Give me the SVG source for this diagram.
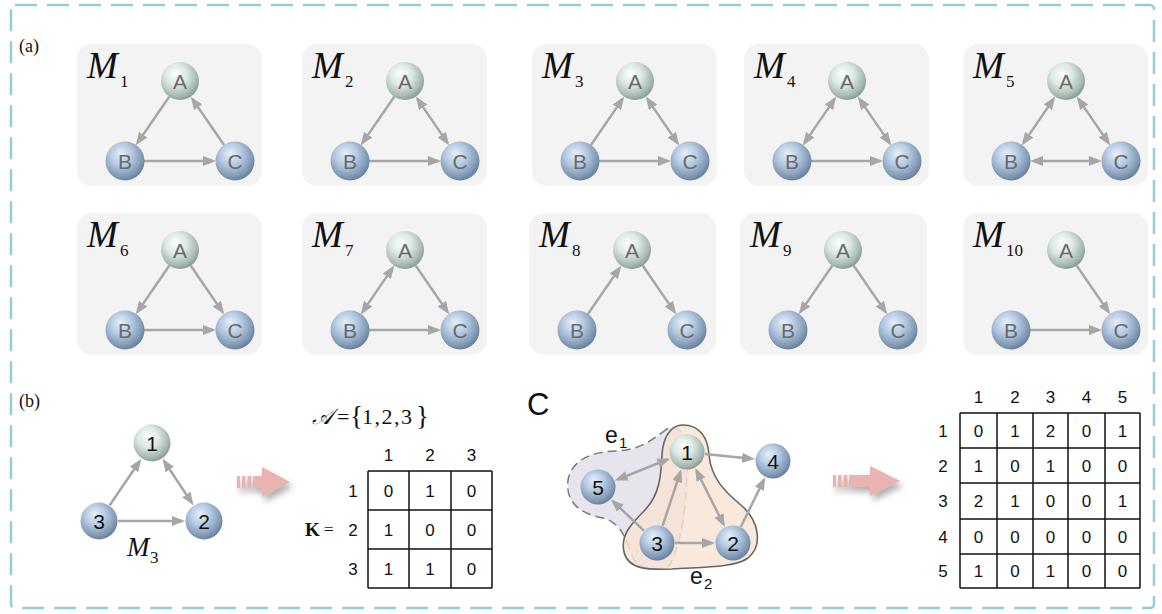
<svg xmlns="http://www.w3.org/2000/svg" width="1162" height="614" viewBox="0 0 1162 614">
  <style>
    .frame { fill: none; stroke: #93cddb; stroke-width: 2.5; stroke-dasharray: 22 10; }
    .panel { fill: #f3f3f3; }
    .edge { stroke: #a6a6a6; stroke-width: 2.5; fill: none; }
    .serif { font-family: "Liberation Serif", "Times New Roman", serif; fill: #111; }
    .mname { font-family: "Liberation Serif", "Times New Roman", serif; font-style: italic; font-size: 37px; fill: #111; }
    .msub { font-family: "Liberation Serif", "Times New Roman", serif; font-size: 17px; fill: #111; }
    .nlbl { font-family: "Liberation Sans", Arial, sans-serif; font-size: 21px; fill: #6a6a6a; text-anchor: middle; }
    .nnum { font-family: "Liberation Sans", Arial, sans-serif; font-size: 21px; fill: #111; text-anchor: middle; }
    .cell { font-family: "Liberation Sans", Arial, sans-serif; font-size: 17px; fill: #111; text-anchor: middle; }
    .grid { stroke: #111; stroke-width: 1.5; fill: none; }
    .sans { font-family: "Liberation Sans", Arial, sans-serif; fill: #111; }
    .pink { fill: #e8b3b1; }
  </style>
  <defs>
    <radialGradient id="gBlue" cx="0.42" cy="0.38" r="0.62" fx="0.38" fy="0.3">
      <stop offset="0" stop-color="#e6eff8"/>
      <stop offset="0.45" stop-color="#b5cae2"/>
      <stop offset="0.85" stop-color="#8199b5"/>
      <stop offset="1" stop-color="#6b829e"/>
    </radialGradient>
    <radialGradient id="gGreen" cx="0.42" cy="0.38" r="0.62" fx="0.38" fy="0.3">
      <stop offset="0" stop-color="#fbfefd"/>
      <stop offset="0.45" stop-color="#dde9e3"/>
      <stop offset="0.85" stop-color="#a7b9b2"/>
      <stop offset="1" stop-color="#8b9e97"/>
    </radialGradient>
    <marker id="arr" viewBox="0 0 13 10" refX="10" refY="5" markerWidth="13" markerHeight="10" markerUnits="userSpaceOnUse" orient="auto-start-reverse">
      <path d="M0,0 L13,5 L0,10 z" fill="#a6a6a6"/>
    </marker>
    <filter id="shadow" x="-30%" y="-30%" width="170%" height="190%">
      <feDropShadow dx="3" dy="5" stdDeviation="3" flood-color="#555" flood-opacity="0.45"/>
    </filter>
    <!-- reusable spheres for the motif panels -->
    <circle id="sphA" r="19" fill="url(#gGreen)"/>
    <circle id="sphB" r="19.5" fill="url(#gBlue)"/>
  </defs>

  <!-- outer dashed frame -->
  <rect class="frame" x="11" y="5" width="1143" height="603" rx="4"/>

  <text class="serif" x="19" y="52" font-size="18">(a)</text>
  <text class="serif" x="19" y="407" font-size="18">(b)</text>

  <!-- ===== (a) motif panels ===== -->
  <g id="m1" transform="translate(77,44)">
    <rect class="panel" width="185" height="142" rx="15"/>
    <text class="mname" x="10" y="34">M</text><text class="msub" x="43" y="43">1</text>
    <g id="m1-edges">
      <line class="edge" x1="92.2" y1="52.7" x2="60.5" y2="98.9" marker-end="url(#arr)"/>
      <line class="edge" x1="67" y1="117" x2="136" y2="117" marker-end="url(#arr)"/>
      <line class="edge" x1="147.2" y1="101.3" x2="115.5" y2="55.1" marker-end="url(#arr)"/>
    </g>
    <g id="m1-A"><use href="#sphA" x="103" y="37"/><text class="nlbl" x="103" y="44.5">A</text></g>
    <g id="m1-B"><use href="#sphB" x="48" y="117"/><text class="nlbl" x="48" y="124.5">B</text></g>
    <g id="m1-C"><use href="#sphB" x="158" y="117"/><text class="nlbl" x="158" y="124.5">C</text></g>
  </g>

  <g id="m2" transform="translate(302,44)">
    <rect class="panel" width="185" height="142" rx="15"/>
    <text class="mname" x="10" y="34">M</text><text class="msub" x="43" y="43">2</text>
    <g id="m2-edges">
      <line class="edge" x1="92.2" y1="52.7" x2="60.5" y2="98.9" marker-end="url(#arr)"/>
      <line class="edge" x1="67" y1="117" x2="136" y2="117" marker-end="url(#arr)"/>
      <line class="edge" x1="115.5" y1="55.1" x2="145.5" y2="98.9" marker-start="url(#arr)" marker-end="url(#arr)"/>
    </g>
    <g id="m2-A"><use href="#sphA" x="103" y="37"/><text class="nlbl" x="103" y="44.5">A</text></g>
    <g id="m2-B"><use href="#sphB" x="48" y="117"/><text class="nlbl" x="48" y="124.5">B</text></g>
    <g id="m2-C"><use href="#sphB" x="158" y="117"/><text class="nlbl" x="158" y="124.5">C</text></g>
  </g>

  <g id="m3" transform="translate(532,44)">
    <rect class="panel" width="185" height="142" rx="15"/>
    <text class="mname" x="10" y="34">M</text><text class="msub" x="43" y="43">3</text>
    <g id="m3-edges">
      <line class="edge" x1="58.8" y1="101.3" x2="90.5" y2="55.1" marker-end="url(#arr)"/>
      <line class="edge" x1="67" y1="117" x2="136" y2="117" marker-end="url(#arr)"/>
      <line class="edge" x1="115.5" y1="55.1" x2="145.5" y2="98.9" marker-start="url(#arr)" marker-end="url(#arr)"/>
    </g>
    <g id="m3-A"><use href="#sphA" x="103" y="37"/><text class="nlbl" x="103" y="44.5">A</text></g>
    <g id="m3-B"><use href="#sphB" x="48" y="117"/><text class="nlbl" x="48" y="124.5">B</text></g>
    <g id="m3-C"><use href="#sphB" x="158" y="117"/><text class="nlbl" x="158" y="124.5">C</text></g>
  </g>

  <g id="m4" transform="translate(744,44)">
    <rect class="panel" width="185" height="142" rx="15"/>
    <text class="mname" x="10" y="34">M</text><text class="msub" x="43" y="43">4</text>
    <g id="m4-edges">
      <line class="edge" x1="90.5" y1="55.1" x2="60.5" y2="98.9" marker-start="url(#arr)" marker-end="url(#arr)"/>
      <line class="edge" x1="67" y1="117" x2="136" y2="117" marker-end="url(#arr)"/>
      <line class="edge" x1="115.5" y1="55.1" x2="145.5" y2="98.9" marker-start="url(#arr)" marker-end="url(#arr)"/>
    </g>
    <g id="m4-A"><use href="#sphA" x="103" y="37"/><text class="nlbl" x="103" y="44.5">A</text></g>
    <g id="m4-B"><use href="#sphB" x="48" y="117"/><text class="nlbl" x="48" y="124.5">B</text></g>
    <g id="m4-C"><use href="#sphB" x="158" y="117"/><text class="nlbl" x="158" y="124.5">C</text></g>
  </g>

  <g id="m5" transform="translate(963,44)">
    <rect class="panel" width="185" height="142" rx="15"/>
    <text class="mname" x="10" y="34">M</text><text class="msub" x="43" y="43">5</text>
    <g id="m5-edges">
      <line class="edge" x1="90.5" y1="55.1" x2="60.5" y2="98.9" marker-start="url(#arr)" marker-end="url(#arr)"/>
      <line class="edge" x1="70" y1="117" x2="136" y2="117" marker-start="url(#arr)" marker-end="url(#arr)"/>
      <line class="edge" x1="115.5" y1="55.1" x2="145.5" y2="98.9" marker-start="url(#arr)" marker-end="url(#arr)"/>
    </g>
    <g id="m5-A"><use href="#sphA" x="103" y="37"/><text class="nlbl" x="103" y="44.5">A</text></g>
    <g id="m5-B"><use href="#sphB" x="48" y="117"/><text class="nlbl" x="48" y="124.5">B</text></g>
    <g id="m5-C"><use href="#sphB" x="158" y="117"/><text class="nlbl" x="158" y="124.5">C</text></g>
  </g>

  <g id="m6" transform="translate(77,213)">
    <rect class="panel" width="185" height="142" rx="15"/>
    <text class="mname" x="10" y="34">M</text><text class="msub" x="43" y="43">6</text>
    <g id="m6-edges">
      <line class="edge" x1="92.2" y1="52.7" x2="60.5" y2="98.9" marker-end="url(#arr)"/>
      <line class="edge" x1="67" y1="117" x2="136" y2="117" marker-end="url(#arr)"/>
      <line class="edge" x1="113.8" y1="52.7" x2="145.5" y2="98.9" marker-end="url(#arr)"/>
    </g>
    <g id="m6-A"><use href="#sphA" x="103" y="37"/><text class="nlbl" x="103" y="44.5">A</text></g>
    <g id="m6-B"><use href="#sphB" x="48" y="117"/><text class="nlbl" x="48" y="124.5">B</text></g>
    <g id="m6-C"><use href="#sphB" x="158" y="117"/><text class="nlbl" x="158" y="124.5">C</text></g>
  </g>

  <g id="m7" transform="translate(302,213)">
    <rect class="panel" width="185" height="142" rx="15"/>
    <text class="mname" x="10" y="34">M</text><text class="msub" x="43" y="43">7</text>
    <g id="m7-edges">
      <line class="edge" x1="90.5" y1="55.1" x2="60.5" y2="98.9" marker-start="url(#arr)" marker-end="url(#arr)"/>
      <line class="edge" x1="67" y1="117" x2="136" y2="117" marker-end="url(#arr)"/>
      <line class="edge" x1="113.8" y1="52.7" x2="145.5" y2="98.9" marker-end="url(#arr)"/>
    </g>
    <g id="m7-A"><use href="#sphA" x="103" y="37"/><text class="nlbl" x="103" y="44.5">A</text></g>
    <g id="m7-B"><use href="#sphB" x="48" y="117"/><text class="nlbl" x="48" y="124.5">B</text></g>
    <g id="m7-C"><use href="#sphB" x="158" y="117"/><text class="nlbl" x="158" y="124.5">C</text></g>
  </g>

  <g id="m8" transform="translate(529,213)">
    <rect class="panel" width="187" height="142" rx="15"/>
    <text class="mname" x="10" y="34">M</text><text class="msub" x="43" y="43">8</text>
    <g id="m8-edges">
      <line class="edge" x1="58.8" y1="101.3" x2="90.5" y2="55.1" marker-end="url(#arr)"/>
      <line class="edge" x1="113.8" y1="52.7" x2="145.5" y2="98.9" marker-end="url(#arr)"/>
    </g>
    <g id="m8-A"><use href="#sphA" x="103" y="37"/><text class="nlbl" x="103" y="44.5">A</text></g>
    <g id="m8-B"><use href="#sphB" x="48" y="117"/><text class="nlbl" x="48" y="124.5">B</text></g>
    <g id="m8-C"><use href="#sphB" x="158" y="117"/><text class="nlbl" x="158" y="124.5">C</text></g>
  </g>

  <g id="m9" transform="translate(740,213)">
    <rect class="panel" width="187" height="142" rx="15"/>
    <text class="mname" x="10" y="34">M</text><text class="msub" x="43" y="43">9</text>
    <g id="m9-edges">
      <line class="edge" x1="92.2" y1="52.7" x2="60.5" y2="98.9" marker-end="url(#arr)"/>
      <line class="edge" x1="113.8" y1="52.7" x2="145.5" y2="98.9" marker-end="url(#arr)"/>
    </g>
    <g id="m9-A"><use href="#sphA" x="103" y="37"/><text class="nlbl" x="103" y="44.5">A</text></g>
    <g id="m9-B"><use href="#sphB" x="48" y="117"/><text class="nlbl" x="48" y="124.5">B</text></g>
    <g id="m9-C"><use href="#sphB" x="158" y="117"/><text class="nlbl" x="158" y="124.5">C</text></g>
  </g>

  <g id="m10" transform="translate(963,213)">
    <rect class="panel" width="185" height="142" rx="15"/>
    <text class="mname" x="10" y="34">M</text><text class="msub" x="43" y="43">10</text>
    <g id="m10-edges">
      <line class="edge" x1="113.8" y1="52.7" x2="145.5" y2="98.9" marker-end="url(#arr)"/>
      <line class="edge" x1="67" y1="117" x2="136" y2="117" marker-end="url(#arr)"/>
    </g>
    <g id="m10-A"><use href="#sphA" x="103" y="37"/><text class="nlbl" x="103" y="44.5">A</text></g>
    <g id="m10-B"><use href="#sphB" x="48" y="117"/><text class="nlbl" x="48" y="124.5">B</text></g>
    <g id="m10-C"><use href="#sphB" x="158" y="117"/><text class="nlbl" x="158" y="124.5">C</text></g>
  </g>

  <!-- ===== (b) motif M3 and its matrix ===== -->
  <g id="b-edges">
    <line class="edge" x1="109.7" y1="505.3" x2="139.6" y2="461.2" marker-end="url(#arr)"/>
    <line class="edge" x1="164.2" y1="461.3" x2="191.8" y2="502.7" marker-start="url(#arr)" marker-end="url(#arr)"/>
    <line class="edge" x1="118" y1="521" x2="182" y2="521" marker-end="url(#arr)"/>
  </g>
  <g id="b-n1"><circle cx="152" cy="443" r="18.5" fill="url(#gGreen)"/><text class="nnum" x="152" y="451">1</text></g>
  <g id="b-n2"><circle cx="204" cy="521" r="18.5" fill="url(#gBlue)"/><text class="nnum" x="204" y="529">2</text></g>
  <g id="b-n3"><circle cx="99" cy="521" r="18.5" fill="url(#gBlue)"/><text class="nnum" x="99" y="529">3</text></g>
  <text class="serif" x="127" y="556" font-size="27" font-style="italic">M</text>
  <text class="serif" x="150" y="563" font-size="17">3</text>

  <g id="b-arrow" filter="url(#shadow)">
    <rect class="pink" x="237" y="476" width="3" height="12"/>
    <rect class="pink" x="242" y="476" width="3.5" height="12"/>
    <rect class="pink" x="247.5" y="476" width="4" height="12"/>
    <rect class="pink" x="253" y="476" width="11" height="12"/>
    <polygon class="pink" points="262,467 290,482 262,497"/>
  </g>

  <g id="b-matrix">
    <text class="serif" x="312" y="424" font-size="22" font-style="italic">𝒜</text>
    <text class="serif" x="337" y="424" font-size="22">=</text>
    <text class="serif" x="350" y="425" font-size="27">{</text>
    <text class="serif" x="362" y="424" font-size="22" letter-spacing="1.5">1,2,3</text>
    <text class="serif" x="416" y="425" font-size="27">}</text>
    <text class="serif" x="305" y="536" font-size="19" font-weight="bold">K</text>
    <text class="serif" x="324" y="535" font-size="17">=</text>
    <g class="cell">
      <text x="388.5" y="461">1</text><text x="430" y="461">2</text><text x="471.5" y="461">3</text>
      <text x="353" y="496.5">1</text><text x="353" y="535.5">2</text><text x="353" y="574.5">3</text>
      <text x="388.5" y="496.5">0</text><text x="430" y="496.5">1</text><text x="471.5" y="496.5">0</text>
      <text x="388.5" y="535.5">1</text><text x="430" y="535.5">0</text><text x="471.5" y="535.5">0</text>
      <text x="388.5" y="574.5">1</text><text x="430" y="574.5">1</text><text x="471.5" y="574.5">0</text>
    </g>
    <path class="grid" d="M368,471 H492 M368,510 H492 M368,549 H492 M368,588 H492 M368,471 V588 M409,471 V588 M451,471 V588 M492,471 V588"/>
  </g>

  <!-- ===== (c) hypergraph and its matrix ===== -->
  <text class="sans" x="527" y="415" font-size="31">C</text>

  <g id="hyperedges">
    <path id="e1" d="M667,429 C652,440 640,450 616,451 C590,452 572,460 568,480 C565,502 580,514 603,518 C622,523 626,540 633,558 C640,570 660,572 670,565 C680,545 685,515 686,490 C688,465 690,440 680,431 C676,428 671,427 667,429 Z" fill="#e7e4ee" stroke="#7a7a7a" stroke-width="1.5" stroke-dasharray="9 5"/>
    <path id="e2" d="M683,425 C700,425 708,438 709,455 C711,478 725,492 742,506 C758,520 764,545 748,558 C735,568 700,567 672,569 C650,570 628,570 624,552 C620,535 632,523 645,510 C660,494 661,475 662,455 C663,438 670,425 683,425 Z" fill="#f8e3d4" fill-opacity="0.82" stroke="#666" stroke-width="1.6"/>
    <text class="sans" x="605" y="443" font-size="23">e</text><text class="sans" x="619" y="448" font-size="15">1</text>
    <text class="sans" x="690" y="584" font-size="23">e</text><text class="sans" x="704" y="589" font-size="15">2</text>
  </g>

  <g id="c-edges">
    <line class="edge" x1="667.4" y1="459.5" x2="617.6" y2="479.5" marker-start="url(#arr)" marker-end="url(#arr)"/>
    <line class="edge" x1="643.9" y1="530.6" x2="613.2" y2="501.5" marker-end="url(#arr)"/>
    <line class="edge" x1="662.6" y1="525.9" x2="680.4" y2="472" marker-end="url(#arr)"/>
    <line class="edge" x1="696.5" y1="470.7" x2="723.5" y2="524.3" marker-start="url(#arr)" marker-end="url(#arr)"/>
    <line class="edge" x1="675" y1="543" x2="712" y2="543" marker-end="url(#arr)"/>
    <line class="edge" x1="704.9" y1="453.9" x2="752.1" y2="458.8" marker-end="url(#arr)"/>
    <line class="edge" x1="740.9" y1="526.8" x2="763.8" y2="479.9" marker-end="url(#arr)"/>
  </g>
  <g id="c-n1"><circle cx="687" cy="452" r="17.5" fill="url(#gGreen)"/><text class="nnum" x="687" y="460">1</text></g>
  <g id="c-n2"><circle cx="733" cy="543" r="17.5" fill="url(#gBlue)"/><text class="nnum" x="733" y="551">2</text></g>
  <g id="c-n3"><circle cx="657" cy="543" r="17.5" fill="url(#gBlue)"/><text class="nnum" x="657" y="551">3</text></g>
  <g id="c-n4"><circle cx="773" cy="461" r="17.5" fill="url(#gBlue)"/><text class="nnum" x="773" y="469">4</text></g>
  <g id="c-n5"><circle cx="598" cy="487" r="17.5" fill="url(#gBlue)"/><text class="nnum" x="598" y="495">5</text></g>

  <g id="c-arrow" filter="url(#shadow)">
    <rect class="pink" x="833" y="475" width="3" height="12"/>
    <rect class="pink" x="838" y="475" width="3.5" height="12"/>
    <rect class="pink" x="843.5" y="475" width="4" height="12"/>
    <rect class="pink" x="849" y="475" width="23" height="12"/>
    <polygon class="pink" points="870,466 900,481 870,496"/>
  </g>

  <g id="c-matrix">
    <g class="cell">
      <text x="978.5" y="403">1</text><text x="1015" y="403">2</text><text x="1050.5" y="403">3</text><text x="1086.5" y="403">4</text><text x="1122.5" y="403">5</text>
      <text x="943" y="436.5">1</text><text x="943" y="471.5">2</text><text x="943" y="507">3</text><text x="943" y="542.5">4</text><text x="943" y="577">5</text>
      <text x="978.5" y="436.5">0</text><text x="1015" y="436.5">1</text><text x="1050.5" y="436.5">2</text><text x="1086.5" y="436.5">0</text><text x="1122.5" y="436.5">1</text>
      <text x="978.5" y="471.5">1</text><text x="1015" y="471.5">0</text><text x="1050.5" y="471.5">1</text><text x="1086.5" y="471.5">0</text><text x="1122.5" y="471.5">0</text>
      <text x="978.5" y="507">2</text><text x="1015" y="507">1</text><text x="1050.5" y="507">0</text><text x="1086.5" y="507">0</text><text x="1122.5" y="507">1</text>
      <text x="978.5" y="542.5">0</text><text x="1015" y="542.5">0</text><text x="1050.5" y="542.5">0</text><text x="1086.5" y="542.5">0</text><text x="1122.5" y="542.5">0</text>
      <text x="978.5" y="577">1</text><text x="1015" y="577">0</text><text x="1050.5" y="577">1</text><text x="1086.5" y="577">0</text><text x="1122.5" y="577">0</text>
    </g>
    <path class="grid" d="M960,413 H1140 M960,448 H1140 M960,483 H1140 M960,519 H1140 M960,554 H1140 M960,588 H1140 M960,413 V588 M997,413 V588 M1033,413 V588 M1068,413 V588 M1105,413 V588 M1140,413 V588"/>
  </g>
</svg>
